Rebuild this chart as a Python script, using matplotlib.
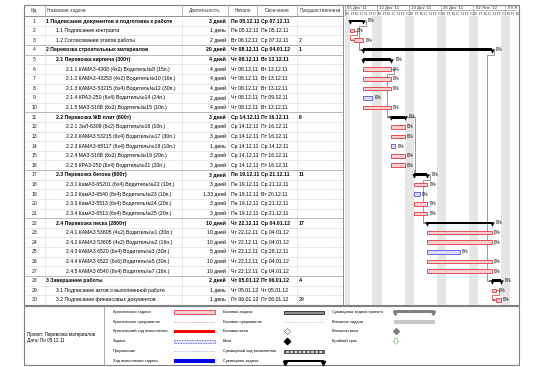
import datetime as dt
import matplotlib
matplotlib.use('Agg')
import matplotlib.pyplot as plt
import matplotlib.dates as mdates
from matplotlib.patches import Rectangle, Polygon

plt.rcParams['font.family'] = ['Liberation Sans', 'DejaVu Sans']

# ---- data ----
ids = list(range(1, 31))
names = [
    '1 Подписание документов и подготовка к работе',
    '1.1 Подписание контракта',
    '1.2 Согласование этапов работы',
    '2 Перевозка строительных материалов',
    '2.1 Перевозка кирпича (300т)',
    '2.1.1 КАМАЗ-4308 (4х2) Водитель№8 (15п.)',
    '2.1.2 КАМАЗ-43253 (4х2) Водитель№10 (16п.)',
    '2.1.3 КАМАЗ-53215 (6х4) Водитель№12 (30п.)',
    '2.1.4 КРАЗ-250 (6х4) Водитель№14 (24п.)',
    '2.1.5 МАЗ-516Б (6х2) Водитель№15 (10п.)',
    '2.2 Перевозка ЖБ плит (600т)',
    '2.2.1 ЗиЛ-6309 (6х2) Водитель№16 (10п.)',
    '2.2.2 КАМАЗ 53215 (6х4) Водитель№17 (30п.)',
    '2.2.3 КАМАЗ-65117 (6х4) Водитель№18 (10п.)',
    '2.2.4 МАЗ-516Б (6х2) Водитель№19 (20п.)',
    '2.2.5 КРАЗ-250 (6х4) Водитель№21 (20п.)',
    '2.3 Перевозка бетона (600т)',
    '2.3.1 КамАЗ-65201 (6х4) Водитель№22 (10п.)',
    '2.3.2 КамАЗ-6540 (8х4) Водитель№23 (10п.)',
    '2.3.3 КамАЗ-5513 (6х4) Водитель№24 (20п.)',
    '2.3.4 КамАЗ-6513 (6х4) Водитель№25 (20п.)',
    '2.4 Перевозка песка (2800т)',
    '2.4.1 КАМАЗ 53605 (4х2) Водитель№1 (30п.)',
    '2.4.2 КАМАЗ 53605 (4х2) Водитель№2 (16п.)',
    '2.4.3 КАМАЗ 6520 (6х4) Водитель№3 (30п.)',
    '2.4.4 КАМАЗ 6522 (6х6) Водитель№5 (30п.)',
    '2.4.5 КАМАЗ 6540 (8х4) Водитель№7 (16п.)',
    '3 Завершение работы',
    '3.1 Подписание актов о выполненной работе',
    '3.2 Подписание финансовых документов',
]
levels = [1, 2, 2, 1, 2, 3, 3, 3, 3, 3, 2, 3, 3, 3, 3, 3, 2, 3, 3, 3, 3,
          2, 3, 3, 3, 3, 3, 1, 2, 2]
durations = ['3 дней', '1 день', '2 дней', '20 дней', '4 дней', '4 дней',
             '4 дней', '4 дней', '2 дней', '4 дней', '3 дней', '3 дней',
             '3 дней', '1 день', '3 дней', '3 дней', '3 дней', '3 дней',
             '1,33 дней', '3 дней', '3 дней', '10 дней', '10 дней',
             '10 дней', '5 дней', '10 дней', '10 дней', '2 дней', '1 день',
             '1 день']
starts = ['Пн 05.12.11', 'Пн 05.12.11', 'Вт 06.12.11', 'Чт 08.12.11',
          'Чт 08.12.11', 'Чт 08.12.11', 'Чт 08.12.11', 'Чт 08.12.11',
          'Чт 08.12.11', 'Чт 08.12.11', 'Ср 14.12.11', 'Ср 14.12.11',
          'Ср 14.12.11', 'Ср 14.12.11', 'Ср 14.12.11', 'Ср 14.12.11',
          'Пн 19.12.11', 'Пн 19.12.11', 'Пн 19.12.11', 'Пн 19.12.11',
          'Пн 19.12.11', 'Чт 22.12.11', 'Чт 22.12.11', 'Чт 22.12.11',
          'Чт 22.12.11', 'Чт 22.12.11', 'Чт 22.12.11', 'Чт 05.01.12',
          'Чт 05.01.12', 'Пт 06.01.12']
ends = ['Ср 07.12.11', 'Пн 05.12.11', 'Ср 07.12.11', 'Ср 04.01.12',
        'Вт 13.12.11', 'Вт 13.12.11', 'Вт 13.12.11', 'Вт 13.12.11',
        'Пт 09.12.11', 'Вт 13.12.11', 'Пт 16.12.11', 'Пт 16.12.11',
        'Пт 16.12.11', 'Ср 14.12.11', 'Пт 16.12.11', 'Пт 16.12.11',
        'Ср 21.12.11', 'Ср 21.12.11', 'Вт 20.12.11', 'Ср 21.12.11',
        'Ср 21.12.11', 'Ср 04.01.12', 'Ср 04.01.12', 'Ср 04.01.12',
        'Ср 28.12.11', 'Ср 04.01.12', 'Ср 04.01.12', 'Пт 06.01.12',
        'Чт 05.01.12', 'Пт 06.01.12']
preds = ['', '', '2', '1', '', '', '', '', '', '', '6', '', '', '', '', '',
         '11', '', '', '', '', '17', '', '', '', '', '', '4', '', '29']
summary = [1, 4, 5, 11, 17, 22, 28]
noncritical = [9, 14, 19, 25]
complete = ['0%'] * 30

week_labels = ["05 Дек '11", "12 Дек '11", "19 Дек '11", "26 Дек '11",
               "02 Янв '12", "09 Янв '12"]
day_letters = ['В', 'П', 'В', 'С', 'Ч', 'П', 'С']

headers = ['Ид.', 'Название задачи', 'Длительность', 'Начало', 'Окончание',
           'Предшественники']

legend1 = ['Критическая задача', 'Критическое прерывание',
           'Критический ход выполнения', 'Задача', 'Прерывание',
           'Ход выполнения задачи']
legend2 = ['Базовая задача', 'Базовое прерывание', 'Базовая веха', 'Веха',
           'Суммарный ход выполнения', 'Суммарная задача']
legend3 = ['Суммарная задача проекта', 'Внешние задачи', 'Внешняя веха',
           'Крайний срок']
project_info = 'Проект: Перевозка материалов\nДата: Пн 05.12.11'


def parse(s):
    return dt.datetime.strptime(s.split()[1], '%d.%m.%y')


start_d = [parse(s) for s in starts]
end_d = [parse(s) for s in ends]
dur_n = [float(d.split()[0].replace(',', '.')) for d in durations]

# ---- layout (pixels) ----
W, H = 544, 367
fig = plt.figure(figsize=(W / 100, H / 100), dpi=100)
bg = fig.add_axes([0, 0, 1, 1])
bg.set_xlim(0, W)
bg.set_ylim(H, 0)
bg.axis('off')

L, R, TOP = 24, 519, 4.5
HDR = 16.2
ROWH = 9.62
TBOT = HDR + 30 * ROWH
GL, GR = 345, 517
PXD = 4.58
cols = [24, 45, 182, 228, 257, 297, 343]
fs = 3.7
grid = '#b0b0b0'


def ry(i):
    return HDR + (i - 0.5) * ROWH


# outer frame
bg.add_patch(Rectangle((L, TOP), R - L, TBOT - TOP, fill=False, ec='#808080', lw=0.8))
bg.add_patch(Rectangle((L, TBOT + 1.5), R - L, H - 2 - TBOT - 1.5, fill=False,
                       ec='#808080', lw=0.8))
bg.plot([L, 343], [HDR, HDR], color='#808080', lw=0.6)
for x in cols[1:]:
    bg.plot([x, x], [TOP, HDR], color='#a0a0a0', lw=0.5)
    bg.plot([x, x], [HDR, TBOT], color=grid, lw=0.4, ls=(0, (1, 1)))
bg.plot([343, 343], [TOP, TBOT], color='#808080', lw=0.6)
bg.plot([GL, GL], [TOP, TBOT], color='#808080', lw=0.5)

# header texts
hx = [34.5, 47, 205, 242.5, 277, 320]
has = ['center', 'left', 'center', 'center', 'center', 'center']
for t, x, ha in zip(headers, hx, has):
    bg.text(x, (TOP + HDR) / 2, t, ha=ha, va='center', fontsize=3.4, color='#333333')

solid_after = [3, 4, 10, 16, 21, 27]
for i in ids:
    y0 = HDR + i * ROWH
    if i < 30:
        if i in solid_after:
            bg.plot([L, 343], [y0, y0], color='#a0a0a0', lw=0.5)
        else:
            bg.plot([L, 343], [y0, y0], color=grid, lw=0.4, ls=(0, (1, 1)))
    k = i - 1
    w = 'bold' if i in summary else 'normal'
    y = ry(i)
    bg.text(34.5, y, str(i), ha='center', va='center', fontsize=fs, color='#222222')
    bg.text(46 + (levels[k] - 1) * 10, y, names[k], ha='left', va='center',
            fontsize=fs, weight=w, color='black')
    bg.text(226, y, durations[k], ha='right', va='center', fontsize=fs, weight=w)
    bg.text(231, y, starts[k], ha='left', va='center', fontsize=fs, weight=w)
    bg.text(261, y, ends[k], ha='left', va='center', fontsize=fs, weight=w)
    bg.text(299, y, preds[k], ha='left', va='center', fontsize=fs, weight=w)

# ---- gantt ----
day0 = mdates.date2num(dt.datetime(2011, 12, 4))
x0 = day0
x1 = day0 + (GR - GL) / PXD

gax = fig.add_axes([GL / W, 1 - TBOT / H, (GR - GL) / W, (TBOT - HDR) / H])
gax.set_xlim(x0, x1)
gax.set_ylim(30.5, 0.5)
gax.axis('off')

hax = fig.add_axes([GL / W, 1 - HDR / H, (GR - GL) / W, (HDR - TOP) / H])
hax.set_xlim(x0, x1)
hax.set_ylim(2, 0)
hax.axis('off')
hax.plot([x0, x1], [1, 1], color='#a0a0a0', lw=0.5)

nd = int(x1 - x0) + 1
for d in range(nd):
    dn = day0 + d
    wd = d % 7
    if wd in (0, 6):
        gax.axvspan(dn, dn + 1, color='#e6e6e6', lw=0, zorder=0)
    if dn + 0.5 < x1:
        hax.text(dn + 0.5, 1.55, day_letters[wd], ha='center', va='center',
                 fontsize=3.2, color='#333333')
    if wd == 0:
        hax.plot([dn, dn], [0, 2], color='#a0a0a0', lw=0.5)
        wk = d // 7
        hax.text(dn + 0.5, 0.55, week_labels[wk], ha='left', va='center',
                 fontsize=3.2, color='#333333', clip_on=True)

s_num = [mdates.date2num(d) for d in start_d]
e_num = []
for k in range(30):
    span = (end_d[k] - start_d[k]).days
    frac = dur_n[k] - int(dur_n[k])
    e_num.append(s_num[k] + span + (frac if frac > 0 else 1))

for i in ids:
    k = i - 1
    if i in summary:
        gax.barh(i, e_num[k] - s_num[k], left=s_num[k], height=0.3,
                 color='black', zorder=3)
        gax.plot([s_num[k], e_num[k]], [i + 0.12, i + 0.12], ls='none',
                 marker='v', ms=3.2, color='black', mew=0, zorder=3)
        gax.text(e_num[k] + 1.0, i - 0.05, complete[k], fontsize=3.3,
                 va='center', ha='left')
    else:
        if i in noncritical:
            fc, ec = '#dcdcfa', '#5555dd'
        else:
            fc, ec = '#f8d0d2', '#e2363f'
        gax.barh(i, e_num[k] - s_num[k], left=s_num[k], height=0.38,
                 color=fc, edgecolor=ec, lw=0.6, zorder=3)
        gax.text(e_num[k] + 0.5, i, complete[k], fontsize=3.3,
                 va='center', ha='left')

# dependency links
for i in ids:
    k = i - 1
    if not preds[k]:
        continue
    p = int(preds[k]) - 1
    xe, yp = e_num[p], p + 1
    xs, ys = s_num[k], i
    crit = (p + 1 not in summary and i not in summary)
    c = '#e2363f' if crit else '#707070'
    if xs - xe >= 1:
        gax.plot([xe, xs + 0.3, xs + 0.3], [yp, yp, ys - 0.45], color=c, lw=0.5, zorder=2)
        gax.annotate('', xy=(xs + 0.3, ys - 0.2), xytext=(xs + 0.3, ys - 0.5),
                     arrowprops=dict(arrowstyle='-|>', lw=0.4, color=c,
                                     mutation_scale=3), zorder=2)
    else:
        xa = xe + 0.6
        xb = xs - 0.9
        gax.plot([xe, xa, xa, xb, xb, xs - 0.3], [yp, yp, yp + 0.5, yp + 0.5, ys, ys],
                 color=c, lw=0.5, zorder=2)
        gax.annotate('', xy=(xs - 0.05, ys), xytext=(xs - 0.5, ys),
                     arrowprops=dict(arrowstyle='-|>', lw=0.4, color=c,
                                     mutation_scale=3), zorder=2)

# ---- legend area ----
bg.plot([104, 104], [TBOT + 1.5, H - 2], color='#a0a0a0', lw=0.6)
bg.text(27, 337.5, project_info, ha='left', va='center', fontsize=3.3,
        linespacing=1.3)

ly = [312, 321.7, 331.4, 341.3, 351.3, 361.2]
lfs = 2.9
for t, y in zip(legend1, ly):
    bg.text(113, y, t, ha='left', va='center', fontsize=lfs)
for t, y in zip(legend2, ly):
    bg.text(223, y, t, ha='left', va='center', fontsize=lfs)
for t, y in zip(legend3, ly):
    bg.text(332, y, t, ha='left', va='center', fontsize=lfs)

# column 1 swatches
a, b = 174, 215
bg.add_patch(Rectangle((a, ly[0] - 1.7), b - a, 3.4, fc='#f8d0d2', ec='#e2363f', lw=0.6))
bg.plot([a, b], [ly[1], ly[1]], color='#f09aa0', lw=0.6, ls=(0, (2, 1.5)))
bg.add_patch(Rectangle((a, ly[2] - 1.8), b - a, 3.6, fc='#ff0000', ec='none'))
bg.add_patch(Rectangle((a, ly[3] - 1.7), b - a, 3.4, fc='#e4e4fb', ec='#7070e0', lw=0.6, ls=(0, (2, 1))))
bg.plot([a, b], [ly[4], ly[4]], color='#b0b0f0', lw=0.6, ls=(0, (2, 1.5)))
bg.add_patch(Rectangle((a, ly[5] - 1.8), b - a, 3.6, fc='#0000ee', ec='none'))

# column 2 swatches
a, b = 284, 324
bg.add_patch(Rectangle((a, ly[0] - 1.5), b - a, 3.0, fc='#909090', ec='#404040', lw=0.7))
bg.plot([a, b], [ly[1], ly[1]], color='#b0b0b0', lw=0.5, ls=(0, (1.5, 1.5)))
bg.plot([287], [ly[2]], marker='D', ms=3.2, mfc='white', mec='#606060', mew=0.4)
bg.plot([287], [ly[3]], marker='D', ms=3.2, color='black')
bg.add_patch(Rectangle((a, ly[4] - 1.5), b - a, 3.0, fc='#d8d8d8', ec='#404040', lw=0.6, hatch='||||'))
bg.add_patch(Rectangle((a, ly[5] - 1.6), b - a, 2.6, fc='black', ec='none'))
bg.plot([a + 1, b - 1], [ly[5] + 1.4, ly[5] + 1.4], ls='none', marker='v', ms=3, color='black')

# column 3 swatches
a, b = 394, 434
bg.add_patch(Rectangle((a, ly[0] - 1.6), b - a, 2.6, fc='#808080', ec='none'))
bg.plot([a + 1, b - 1], [ly[0] + 1.4, ly[0] + 1.4], ls='none', marker='v', ms=3, color='#808080')
bg.add_patch(Rectangle((a, ly[1] - 1.5), b - a, 3.0, fc='#c8c8c8', ec='#b0b0b0', lw=0.4))
bg.plot([396], [ly[2]], marker='D', ms=3.0, color='#808080')
bg.add_patch(Polygon([(394.5, ly[3] - 3), (397.5, ly[3] - 3), (397.5, ly[3]),
                      (399, ly[3]), (396, ly[3] + 3), (393, ly[3]), (394.5, ly[3])],
                     closed=True, fc='white', ec='#66bb66', lw=0.4))

fig.savefig('out.png', dpi=100)
